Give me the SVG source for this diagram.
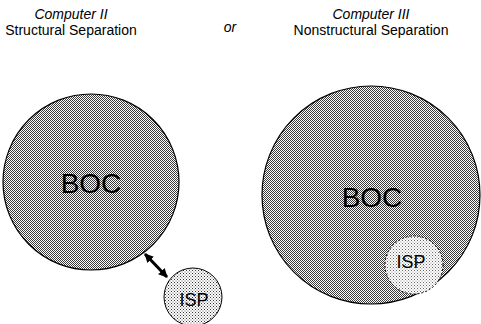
<svg xmlns="http://www.w3.org/2000/svg" width="481" height="324" viewBox="0 0 481 324">
<defs>
<pattern id="dark" width="2" height="2" patternUnits="userSpaceOnUse">
<rect width="2" height="2" fill="#ffffff"/>
<rect x="0" y="0" width="1" height="1" fill="#3a3a3a"/>
<rect x="1" y="1" width="1" height="1" fill="#3a3a3a"/>
</pattern>
<pattern id="light" width="3" height="3" patternUnits="userSpaceOnUse">
<rect width="3" height="3" fill="#ffffff"/>
<rect x="0" y="0" width="1" height="1" fill="#333"/>
<rect x="1.5" y="1.5" width="1" height="1" fill="#555"/>
</pattern>
<pattern id="lighter" width="3" height="3" patternUnits="userSpaceOnUse">
<rect width="3" height="3" fill="#ffffff"/>
<rect x="0" y="0" width="1" height="1" fill="#666"/>
<rect x="1.5" y="1.5" width="1" height="1" fill="#888"/>
</pattern>
<marker id="ah" viewBox="0 0 10 10" refX="9" refY="5" markerWidth="3.2" markerHeight="3" orient="auto-start-reverse">
<path d="M0,0 L10,5 L0,10 z" fill="#000"/>
</marker>
<style>
text{font-family:"Liberation Sans",Arial,sans-serif;fill:#000;text-anchor:middle}
.hd{font-size:14px}
.it{font-style:italic}
.big{font-size:28px}
.sm{font-size:18px}
.boc{fill:url(#dark);stroke:#000;stroke-width:1.2}
.isp{fill:url(#light);stroke:#000;stroke-width:1}
.isp2{fill:url(#lighter);stroke:#000;stroke-width:1;stroke-dasharray:2 2}
</style>
</defs>
<g id="titles">
<text class="hd it" x="71" y="19">Computer II</text>
<text class="hd" x="71" y="35">Structural Separation</text>
<text class="hd it" x="230" y="32">or</text>
<text class="hd it" x="371" y="19">Computer III</text>
<text class="hd" x="371" y="35">Nonstructural Separation</text>
</g>
<g id="boc-left">
<circle class="boc" cx="91" cy="182" r="88"/>
<text class="big" x="91" y="193">BOC</text>
</g>
<g id="isp-left">
<circle class="isp" cx="193" cy="297" r="29"/>
<text class="sm" x="194" y="306">ISP</text>
</g>
<g id="boc-right">
<circle class="boc" cx="371" cy="195" r="109"/>
<text class="big" x="372" y="207">BOC</text>
</g>
<g id="isp-right">
<circle class="isp2" cx="414" cy="265" r="29"/>
<text class="sm" x="411" y="268">ISP</text>
</g>
<g id="connectors">
<line x1="145" y1="254" x2="167" y2="277" stroke="#000" stroke-width="3" marker-start="url(#ah)" marker-end="url(#ah)"/>
</g>
</svg>
